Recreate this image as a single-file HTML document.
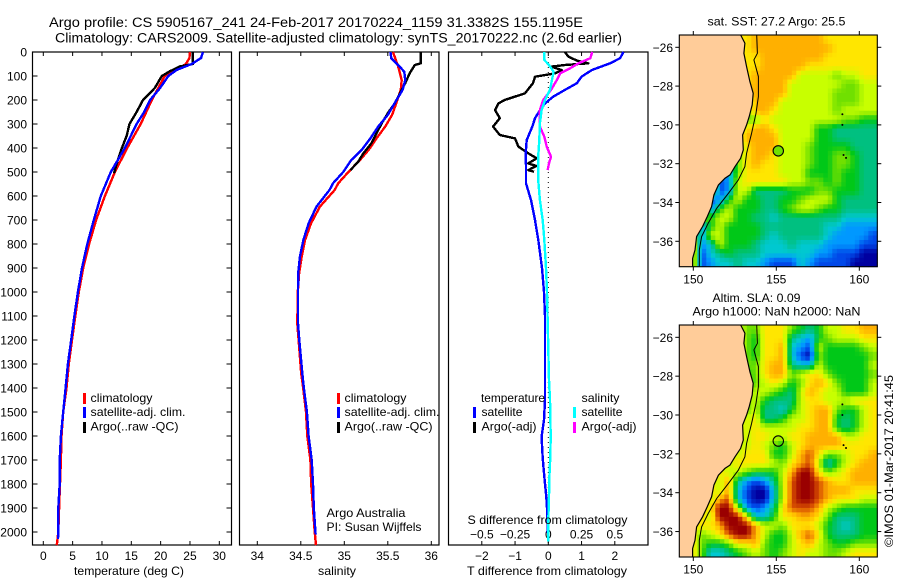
<!DOCTYPE html>
<html lang="en">
<head>
<meta charset="utf-8">
<title>Argo profile 5905167_241</title>
<style>
html,body{margin:0;padding:0;background:#fff;}
svg{display:block;}
text{font-family:"Liberation Sans",sans-serif;font-size:12px;fill:#000;}
</style>
</head>
<body>
<svg id="chart" xmlns="http://www.w3.org/2000/svg" width="900" height="580" viewBox="0 0 900 580">
  <rect x="0" y="0" width="900" height="580" fill="#ffffff"/>
  <text x="49" y="27" textLength="534" lengthAdjust="spacingAndGlyphs" style="font-size:13.5px">Argo profile: CS 5905167_241 24-Feb-2017 20170224_1159 31.3382S 155.1195E</text>
  <text x="55" y="42.5" textLength="567" lengthAdjust="spacingAndGlyphs" style="font-size:13.5px">Climatology: CARS2009. Satellite-adjusted climatology: synTS_20170222.nc (2.6d earlier)</text>

  <g id="temp-panel"></g>
  <g id="sal-panel"></g>
  <g id="diff-panel"></g>

  <text x="74" y="575" textLength="110" lengthAdjust="spacingAndGlyphs">temperature (deg C)</text>
  <text x="318" y="575" textLength="38" lengthAdjust="spacingAndGlyphs">salinity</text>
  <text x="467" y="575" textLength="160" lengthAdjust="spacingAndGlyphs">T difference from climatology</text>
  <text x="467.5" y="524" textLength="160" lengthAdjust="spacingAndGlyphs">S difference from climatology</text>

  <g>
    <rect x="83" y="393" width="3" height="11" fill="#ff0000"/>
    <rect x="83" y="407" width="3" height="11" fill="#0000ff"/>
    <rect x="83" y="422" width="3" height="11" fill="#000000"/>
    <text x="90.5" y="402" textLength="62" lengthAdjust="spacingAndGlyphs">climatology</text>
    <text x="90.5" y="416" textLength="95" lengthAdjust="spacingAndGlyphs">satellite-adj. clim.</text>
    <text x="90.5" y="430.5" textLength="88" lengthAdjust="spacingAndGlyphs">Argo(..raw -QC)</text>
  </g>
  <g>
    <rect x="337" y="393" width="3" height="11" fill="#ff0000"/>
    <rect x="337" y="407" width="3" height="11" fill="#0000ff"/>
    <rect x="337" y="422" width="3" height="11" fill="#000000"/>
    <text x="344.5" y="402" textLength="62" lengthAdjust="spacingAndGlyphs">climatology</text>
    <text x="344.5" y="416" textLength="95" lengthAdjust="spacingAndGlyphs">satellite-adj. clim.</text>
    <text x="344.5" y="430.5" textLength="88" lengthAdjust="spacingAndGlyphs">Argo(..raw -QC)</text>
  </g>
  <text x="326.5" y="517" textLength="79" lengthAdjust="spacingAndGlyphs">Argo Australia</text>
  <text x="326.5" y="531" textLength="95" lengthAdjust="spacingAndGlyphs">PI: Susan Wijffels</text>

  <g>
    <text x="481" y="402" textLength="64" lengthAdjust="spacingAndGlyphs">temperature</text>
    <rect x="473" y="407" width="3" height="11" fill="#0000ff"/>
    <text x="481.5" y="416" textLength="41" lengthAdjust="spacingAndGlyphs">satellite</text>
    <rect x="473" y="422" width="3" height="11" fill="#000000"/>
    <text x="481.5" y="430.5" textLength="55" lengthAdjust="spacingAndGlyphs">Argo(-adj)</text>
    <text x="581.5" y="402" textLength="38" lengthAdjust="spacingAndGlyphs">salinity</text>
    <rect x="573" y="407" width="3" height="11" fill="#00ffff"/>
    <text x="581.5" y="416" textLength="41" lengthAdjust="spacingAndGlyphs">satellite</text>
    <rect x="573" y="422" width="3" height="11" fill="#ff00ff"/>
    <text x="581.5" y="430.5" textLength="55" lengthAdjust="spacingAndGlyphs">Argo(-adj)</text>
  </g>

  <g id="sst-map"></g>
  <g id="sla-map"></g>

  <text x="707.5" y="25.5" textLength="138" lengthAdjust="spacingAndGlyphs">sat. SST: 27.2 Argo: 25.5</text>
  <text x="712.5" y="302" textLength="88" lengthAdjust="spacingAndGlyphs">Altim. SLA: 0.09</text>
  <text x="692.5" y="315.5" textLength="168" lengthAdjust="spacingAndGlyphs">Argo h1000: NaN h2000: NaN</text>
  <text transform="translate(893,547) rotate(-90)" x="0" y="0" textLength="172" lengthAdjust="spacingAndGlyphs">©IMOS 01-Mar-2017 20:41:45</text>
</svg>

<script>
// ---- profile data ----
const depthTicks = [0,100,200,300,400,500,600,700,800,900,1000,1100,1200,1300,1400,1500,1600,1700,1800,1900,2000];
const tempTicks = [0,5,10,15,20,25,30];
const salTicks = [34,34.5,35,35.5,36];
const tDiffTicks = [-2,-1,0,1,2];
const sDiffTicks = [-0.5,-0.25,0,0.25,0.5];

const climTempDepth = [0,25,50,75,100,150,200,300,400,500,600,700,800,900,1000,1100,1200,1300,1400,1500,1600,1700,1800,1900,2000,2055];
const climTemp = [25.0,24.9,24.3,22.6,20.7,19.6,18.5,16.6,14.3,12.2,10.5,9.0,7.8,6.8,6.05,5.45,4.9,4.35,3.95,3.4,3.1,3.0,2.85,2.7,2.56,2.3];
const satTempDepth = [0,25,50,75,100,150,200,250,300,400,500,600,700,800,900,1000,1100,1200,1300,1400,1500,1600,1700,1800,1900,2000,2030];
const satTemp = [27.2,26.9,25.3,22.7,21.3,19.9,18.2,17.2,15.9,13.9,11.5,9.8,8.6,7.5,6.6,5.9,5.3,4.75,4.2,3.8,3.4,3.0,2.8,2.8,2.55,2.55,2.5];
const argoTempDepth = [0,50,60,80,100,150,200,250,300,350,400,450,505];
const argoTemp = [25.5,25.5,23.3,21.6,20.2,19.0,17.0,15.9,14.7,14.2,13.4,12.7,12.05];

const climSalDepth = [0,61,117,158,200,262,311,360,408,450,499,547,575,644,714,783,853,922,1000,1131,1200,1269,1339,1394,1500,1600,1700,1800,1900,2000,2055];
const climSal = [35.56,35.62,35.66,35.65,35.61,35.55,35.47,35.37,35.28,35.18,35.05,34.93,34.89,34.72,34.617,34.55,34.51,34.48,34.465,34.46,34.475,34.49,34.505,34.525,34.56,34.575,34.61,34.62,34.64,34.66,34.675];
const satSalDepth = [0,26,47,82,117,158,200,262,311,360,408,450,499,547,575,644,714,783,853,922,992,1131,1200,1269,1339,1394,1500,1600,1700,1800,1900,2010];
const satSal = [35.53,35.54,35.6,35.69,35.7,35.67,35.6,35.5,35.39,35.3,35.2,35.08,34.99,34.87,34.83,34.68,34.59,34.53,34.49,34.47,34.468,34.468,34.483,34.5,34.517,34.533,34.57,34.59,34.625,34.64,34.65,34.67];
const argoSalDepth = [0,47,54,89,130,172,214,249,297,339,381,422,457,492];
const argoSal = [35.88,35.88,35.81,35.75,35.7,35.64,35.58,35.51,35.43,35.37,35.31,35.22,35.16,35.07];

const satTDiffDepth = [0,26,47,75,103,130,158,186,214,242,276,311,367,422,478,547,617,700,783,900,1000,1100,1367,1450,1533,1603,1686,1769,1853,1922,1964,2010];
const satTDiff = [2.26,2.16,1.86,1.31,1.0,0.86,0.5,0.15,-0.1,-0.25,-0.4,-0.48,-0.65,-0.68,-0.67,-0.67,-0.52,-0.4,-0.3,-0.19,-0.13,-0.1,-0.1,-0.1,-0.13,-0.2,-0.17,-0.12,-0.06,-0.03,-0.02,-0.01];
const argoTDiffDepth = [0,19,36,47,54,61,75,89,103,130,172,200,214,242,276,311,346,360,394,422,443,464,475,492,499];
const argoTDiff = [0.5,0.6,0.86,1.2,0.5,0.1,0.4,0.2,-0.4,-0.46,-0.7,-1.31,-1.5,-1.6,-1.46,-1.66,-1.46,-1.0,-0.9,-0.6,-0.35,-0.6,-0.36,-0.6,-0.43];
const satSDiffDepth = [0,33,54,82,110,158,200,242,297,367,436,533,617,700,783,900,1000,1367,1450,1533,1603,1686,1769,1853,1950,2040];
const satSDiff = [-0.03,-0.03,0.005,0.04,0.03,0.013,-0.025,-0.05,-0.063,-0.068,-0.076,-0.076,-0.063,-0.042,-0.03,-0.017,-0.01,0.005,0.013,0.016,0.018,0.015,0.008,0.005,0.0,0.0];
const argoSDiffDepth = [0,26,47,68,89,117,158,200,242,311,353,394,436,464,492];
const argoSDiff = [0.33,0.316,0.227,0.164,0.089,0.064,0.02,-0.038,-0.063,-0.063,-0.03,-0.012,0.02,0.005,-0.005];

// ---- map data: colour-scale level of each grid cell, north to south ----
const sstLevels = [
[8,8,8,8,8,8,8,8,9,9,9,9,9,9,9,9,8,8,8,8,8,8],
[8,8,8,8,8,8,8,8,9,9,9,9,9,9,9,9,9,8,8,8,8,8],
[8,8,8,8,8,8,8,8,8,9,9,9,9,9,9,9,8,8,8,8,8,8],
[8,8,8,8,8,8,8,8,8,9,9,9,9,9,8,8,8,8,8,8,8,8],
[8,8,8,8,8,8,8,8,9,9,9,9,9,7,7,7,7,6,7,7,8,8],
[8,8,8,8,8,8,8,8,9,9,9,9,7,7,7,7,7,7,6,6,7,7],
[8,8,8,8,8,8,8,9,9,9,9,9,7,7,7,7,7,6,6,6,7,7],
[8,8,8,8,8,8,8,6,9,9,9,7,7,7,7,7,7,6,6,6,7,7],
[8,8,8,8,8,8,8,6,9,9,8,7,7,7,7,7,7,6,7,7,7,7],
[8,8,8,8,8,8,8,6,6,8,7,7,7,7,7,7,7,7,6,6,5,5],
[8,8,8,8,8,8,7,8,9,9,8,7,7,7,7,5,5,4,4,4,4,4],
[8,8,8,8,8,8,7,9,9,9,9,7,7,7,7,5,5,4,4,4,4,4],
[8,8,8,8,8,8,6,8,9,9,9,7,7,7,6,5,5,5,5,4,4,4],
[8,8,8,8,8,4,6,8,9,9,8,7,7,7,6,5,5,6,6,5,4,4],
[8,8,8,8,8,2,6,8,9,8,8,7,7,7,6,5,5,6,6,5,4,4],
[8,8,8,8,2,2,6,8,8,8,8,7,7,7,5,5,5,6,5,5,4,4],
[8,8,8,8,1,2,7,8,8,8,8,8,7,7,6,6,5,6,5,5,4,4],
[8,8,8,8,1,2,7,7,4,4,4,4,5,5,5,6,6,5,5,5,4,4],
[8,8,8,1,2,5,7,5,5,4,4,5,5,6,7,7,7,5,4,4,4,4],
[8,8,8,2,5,7,5,5,5,4,4,5,6,7,7,6,5,5,4,4,4,4],
[8,8,8,5,7,7,5,5,4,4,3,4,4,4,4,4,4,4,3,3,3,3],
[8,8,2,5,7,5,5,5,5,4,4,4,4,4,4,4,3,3,2,2,2,2],
[8,8,2,7,7,5,5,5,5,4,3,4,4,4,4,4,3,2,2,2,2,1],
[8,8,2,3,7,5,5,5,4,3,3,3,4,3,3,3,2,2,2,2,1,1],
[8,8,1,3,4,5,4,4,4,3,3,3,3,3,3,2,2,1,1,1,0,0],
[8,8,1,2,3,3,4,3,3,2,1,1,1,3,2,1,1,1,1,0,0,0]
];
const slaLevels = [
[8,8,8,8,8,8,8,6,6,8,8,8,6,5,4,5,7,7,8,8,9,9],
[8,8,8,8,8,8,8,6,5,8,8,8,4,3,2,5,6,7,7,7,8,8],
[8,8,8,8,8,8,8,6,5,8,8,9,3,2,1,7,5,5,5,5,6,7],
[8,8,8,8,8,8,8,6,5,8,8,9,3,1,0,6,5,5,5,5,5,6],
[8,8,8,8,8,8,8,6,6,8,9,9,4,3,3,7,5,5,5,5,5,7],
[8,8,8,8,8,8,8,5,6,8,9,9,6,7,8,8,6,5,5,5,5,6],
[8,8,8,8,8,8,8,5,6,7,8,7,5,6,8,9,8,6,5,5,5,7],
[8,8,8,8,8,8,8,6,7,7,6,5,4,7,9,8,7,7,5,5,5,7],
[8,8,8,8,8,8,8,6,7,5,4,4,4,7,8,8,7,7,7,8,8,8],
[8,8,8,8,8,8,8,6,7,4,4,3,5,7,8,9,9,6,5,5,7,8],
[8,8,8,8,8,8,8,7,8,4,4,5,7,7,8,9,9,5,4,5,7,8],
[8,8,8,8,8,8,8,7,8,7,7,7,7,8,8,9,9,5,4,5,7,8],
[8,8,8,8,8,8,8,7,8,8,7,7,8,8,9,9,9,9,7,7,8,8],
[8,8,8,8,8,8,7,7,8,7,6,5,7,8,9,9,9,9,8,8,8,8],
[8,8,8,8,8,8,7,8,8,8,5,5,7,9,10,8,6,6,7,8,8,9],
[8,8,8,8,8,7,8,8,8,8,7,6,8,9,10,7,3,5,7,8,9,9],
[8,8,8,8,8,7,7,6,5,5,5,7,9,11,11,8,6,7,8,9,9,9],
[8,8,8,8,7,9,4,2,1,2,4,7,10,11,11,10,9,8,8,9,9,9],
[8,8,8,8,7,9,3,1,0,0,3,7,10,11,11,10,9,9,9,8,8,8],
[8,8,8,7,9,10,3,1,0,0,3,7,10,11,11,10,9,8,8,8,7,7],
[8,8,8,8,11,11,7,2,1,2,4,8,10,10,10,9,7,6,5,5,5,5],
[8,8,8,7,11,11,11,8,3,3,5,8,8,9,9,8,6,4,4,4,5,5],
[8,8,8,8,9,11,11,11,9,7,7,6,8,8,8,7,5,4,3,4,5,5],
[8,8,6,7,8,10,11,11,9,7,5,5,7,9,10,8,5,4,4,4,5,5],
[8,8,6,5,5,6,8,8,9,6,5,5,7,8,9,7,6,5,5,6,6,6],
[8,8,6,3,3,4,5,6,7,6,5,6,7,8,7,7,6,6,7,8,8,8]
];
const mapLonTicks = [150,155,160];
const mapLatTicks = [-26,-28,-30,-32,-34,-36];
const coastLon = [152.85,153.11,153.05,153.21,153.41,153.61,153.55,153.37,153.21,152.97,153.01,152.85,152.51,152.21,151.91,151.51,151.24,151.1,150.84,150.56,150.2,150.1,149.96,149.96];
const coastLat = [-25.36,-25.79,-26.31,-27.0,-27.77,-28.37,-28.97,-29.57,-30.0,-30.52,-31.29,-31.72,-32.15,-32.58,-32.75,-33.1,-33.61,-34.21,-34.73,-35.24,-35.76,-36.45,-36.88,-37.3];
const isobathLon = [153.82,153.86,153.65,153.92,153.92,153.78,153.51,153.21,153.11,152.71,152.11,151.41,150.9,150.5,150.36,150.36];
const isobathLat = [-25.36,-26.31,-26.65,-27.51,-28.54,-29.4,-30.43,-31.46,-32.15,-32.84,-33.53,-34.3,-35.07,-35.76,-36.45,-37.3];
const islandLon = [158.98,158.98,159.05,159.2];
const islandLat = [-29.45,-30.0,-31.55,-31.7];
const argoLon = [155.1195];
const argoLat = [-31.3382];
const levelColors = ['#0000a0','#0048e8','#0098ff','#00c8d0','#00c080','#00c818','#70e000','#c8ff00','#ffe600','#ffb000','#d85000','#9a0000'];

// ---- helpers and axis functions ----
const NS = 'http://www.w3.org/2000/svg';
function make(parent, tag, props) {
  const node = document.createElementNS(NS, tag);
  for (const k in props) node.setAttribute(k, props[k]);
  parent.appendChild(node);
  return node;
}
const PTOP = 52, PBOT = 545;
const yDepth = d => PTOP + d * 0.24;
const xTemp = v => 43.3 + v * 5.867;
const xSal = v => 257.3 + (v - 34) * 87;
const xTD = v => 548.3 + v * 33.25;
const xSD = v => 548.3 + v * 133;

function fmt(v) {
  return String(v).replace('-', '\u2212');
}
function drawFrame(g, x0, x1) {
  const frame = make(g, 'rect', {x:x0, y:PTOP, width:x1-x0, height:PBOT-PTOP, fill:'#fff', stroke:'#000', 'stroke-width':1.2});
  
  
}
function drawXTicks(g, ticks, fx, labelY, showTicks) {
  ticks.forEach(v => {
    const x = fx(v);
    if (showTicks) {
      const top = make(g, 'line', {x1:x, x2:x, y1:PTOP, y2:PTOP+4, stroke:'#000'});
      
      
      const bot = make(g, 'line', {x1:x, x2:x, y1:PBOT-4, y2:PBOT, stroke:'#000'});
      
      
    }
    const label = make(g, 'text', {x:x, y:labelY, 'text-anchor':'middle'});
    
    
    label.textContent = fmt(v);
  });
}
function drawLine(g, fx, depths, values, color, width, name) {
  const pts = values.map((v, i) => fx(v).toFixed(1) + ',' + yDepth(depths[i]).toFixed(1)).join(' ');
  const line = make(g, 'polyline', {points:pts, fill:'none', stroke:color, 'stroke-width':width, 'shape-rendering':'crispEdges', 'stroke-linejoin':'round'});
  
  
}

// ---- temperature panel ----
const tempPanel = document.getElementById('temp-panel');
drawFrame(tempPanel, 32.5, 231.5);
drawXTicks(tempPanel, tempTicks, xTemp, 560, true);
depthTicks.forEach(d => {
  const y = yDepth(d);
  const left = make(tempPanel, 'line', {x1:32.5, x2:37.5, y1:y, y2:y, stroke:'#000'});
  
  
  const right = make(tempPanel, 'line', {x1:226.5, x2:231.5, y1:y, y2:y, stroke:'#000'});
  
  
  const label = make(tempPanel, 'text', {x:27, y:y+4.5, 'text-anchor':'end'});
  
  
  label.textContent = d;
});
drawLine(tempPanel, xTemp, climTempDepth, climTemp, '#ff0000', 2.4, 'climatology-temperature-line');
drawLine(tempPanel, xTemp, argoTempDepth, argoTemp, '#000000', 2.4, 'argo-temperature-line');
drawLine(tempPanel, xTemp, satTempDepth, satTemp, '#0000ff', 2.4, 'satellite-temperature-line');

// ---- salinity panel ----
const salPanel = document.getElementById('sal-panel');
drawFrame(salPanel, 239.5, 439);
drawXTicks(salPanel, salTicks, xSal, 560, true);
drawLine(salPanel, xSal, climSalDepth, climSal, '#ff0000', 2.4, 'climatology-salinity-line');
drawLine(salPanel, xSal, argoSalDepth, argoSal, '#000000', 2.4, 'argo-salinity-line');
drawLine(salPanel, xSal, satSalDepth, satSal, '#0000ff', 2.4, 'satellite-salinity-line');

// ---- difference panel ----
const diffPanel = document.getElementById('diff-panel');
drawFrame(diffPanel, 448.5, 648);
drawXTicks(diffPanel, tDiffTicks, xTD, 560, true);
drawXTicks(diffPanel, sDiffTicks, xSD, 538.5, false);
const zeroLine = make(diffPanel, 'line', {x1:xTD(0), x2:xTD(0), y1:PTOP, y2:PBOT, stroke:'#000', 'stroke-dasharray':'1 4'});


drawLine(diffPanel, xTD, argoTDiffDepth, argoTDiff, '#000000', 2.4, 'argo-t-difference-line');
drawLine(diffPanel, xTD, satTDiffDepth, satTDiff, '#0000ff', 2.4, 'satellite-t-difference-line');
drawLine(diffPanel, xSD, argoSDiffDepth, argoSDiff, '#ff00ff', 2.4, 'argo-s-difference-line');
drawLine(diffPanel, xSD, satSDiffDepth, satSDiff, '#00ffff', 2.4, 'satellite-s-difference-line');

// ---- maps ----
const MAPL = 679.3, MAPR = 877.3, LON0 = 149.157, LON1 = 161.084, LAT0 = -25.366, LAT1 = -37.31;
const SUB = 2;
function levelToColor(v) {
  const i = Math.min(Math.floor(v), levelColors.length - 2);
  const t = v - i;
  const a = levelColors[i], b = levelColors[i + 1];
  const ch = p => Math.round(parseInt(a.substr(p, 2), 16) * (1 - t) + parseInt(b.substr(p, 2), 16) * t);
  return 'rgb(' + ch(1) + ',' + ch(3) + ',' + ch(5) + ')';
}
function sampleLevel(levels, rowPos, colPos) {
  const nR = levels.length, nC = levels[0].length;
  const r = Math.max(0, Math.min(nR - 1, rowPos - 0.5));
  const c = Math.max(0, Math.min(nC - 1, colPos - 0.5));
  const r0 = Math.floor(r), c0 = Math.floor(c);
  const r1 = Math.min(nR - 1, r0 + 1), c1 = Math.min(nC - 1, c0 + 1);
  const fr = r - r0, fc = c - c0;
  return (levels[r0][c0] * (1 - fc) + levels[r0][c1] * fc) * (1 - fr) + (levels[r1][c0] * (1 - fc) + levels[r1][c1] * fc) * fr;
}
function drawMap(g, levels, top, bot, circleFill, labelY) {
  const xLon = lon => MAPL + (lon - LON0) / (LON1 - LON0) * (MAPR - MAPL);
  const yLat = lat => top + (lat - LAT0) / (LAT1 - LAT0) * (bot - top);
  const nRows = levels.length * SUB, nCols = levels[0].length * SUB;
  for (let r = 0; r < nRows; r++) {
    for (let c = 0; c < nCols; c++) {
      const lonA = LON0 + (LON1 - LON0) * c / nCols;
      const lonB = LON0 + (LON1 - LON0) * (c + 1) / nCols;
      const latA = LAT0 + (LAT1 - LAT0) * r / nRows;
      const latB = LAT0 + (LAT1 - LAT0) * (r + 1) / nRows;
      const lvl = sampleLevel(levels, (r + 0.5) / SUB, (c + 0.5) / SUB);
      const cell = make(g, 'rect', {x:xLon(lonA).toFixed(2), y:yLat(latA).toFixed(2), width:(xLon(lonB)-xLon(lonA)+0.4).toFixed(2), height:(yLat(latB)-yLat(latA)+0.4).toFixed(2), fill:levelToColor(lvl)});
      
      
    }
  }
  const coastPts = coastLon.map((v, i) => xLon(v).toFixed(1) + ',' + yLat(coastLat[i]).toFixed(1));
  const land = make(g, 'polygon', {points:coastPts.join(' ') + ' ' + MAPL + ',' + bot + ' ' + MAPL + ',' + top, fill:'#ffcc99'});
  
  
  const coast = make(g, 'polyline', {points:coastPts.join(' '), fill:'none', stroke:'#000', 'stroke-width':1.2});
  
  
  const isoPts = isobathLon.map((v, i) => xLon(v).toFixed(1) + ',' + yLat(isobathLat[i]).toFixed(1)).join(' ');
  const iso = make(g, 'polyline', {points:isoPts, fill:'none', stroke:'#000', 'stroke-width':1});
  
  
  islandLon.forEach((v, i) => {
    const isl = make(g, 'circle', {cx:xLon(v), cy:yLat(islandLat[i]), r:1, fill:'#000'});
    
    
  });
  const marker = make(g, 'circle', {cx:xLon(argoLon[0]), cy:yLat(argoLat[0]), r:5.2, fill:circleFill, stroke:'#000', 'stroke-width':1.1});
  
  
  const frame = make(g, 'rect', {x:MAPL, y:top, width:MAPR-MAPL, height:bot-top, fill:'none', stroke:'#000', 'stroke-width':1.1});
  
  
  mapLonTicks.forEach(v => {
    const x = xLon(v);
    const t1 = make(g, 'line', {x1:x, x2:x, y1:top-4, y2:top, stroke:'#000'});
    
    
    const t2 = make(g, 'line', {x1:x, x2:x, y1:bot, y2:bot+4, stroke:'#000'});
    
    
    const lab = make(g, 'text', {x:x, y:labelY, 'text-anchor':'middle'});
    
    
    lab.textContent = v;
  });
  mapLatTicks.forEach(v => {
    const y = yLat(v);
    const t1 = make(g, 'line', {x1:MAPL-4, x2:MAPL, y1:y, y2:y, stroke:'#000'});
    
    
    const t2 = make(g, 'line', {x1:MAPR, x2:MAPR+4, y1:y, y2:y, stroke:'#000'});
    
    
    const lab = make(g, 'text', {x:673, y:y+4.5, 'text-anchor':'end'});
    
    
    lab.textContent = fmt(v);
  });
}
drawMap(document.getElementById('sst-map'), sstLevels, 35, 266.7, '#70e000', 283.5);
drawMap(document.getElementById('sla-map'), slaLevels, 325, 557, 'none', 573.5);
</script>
</body>
</html>
